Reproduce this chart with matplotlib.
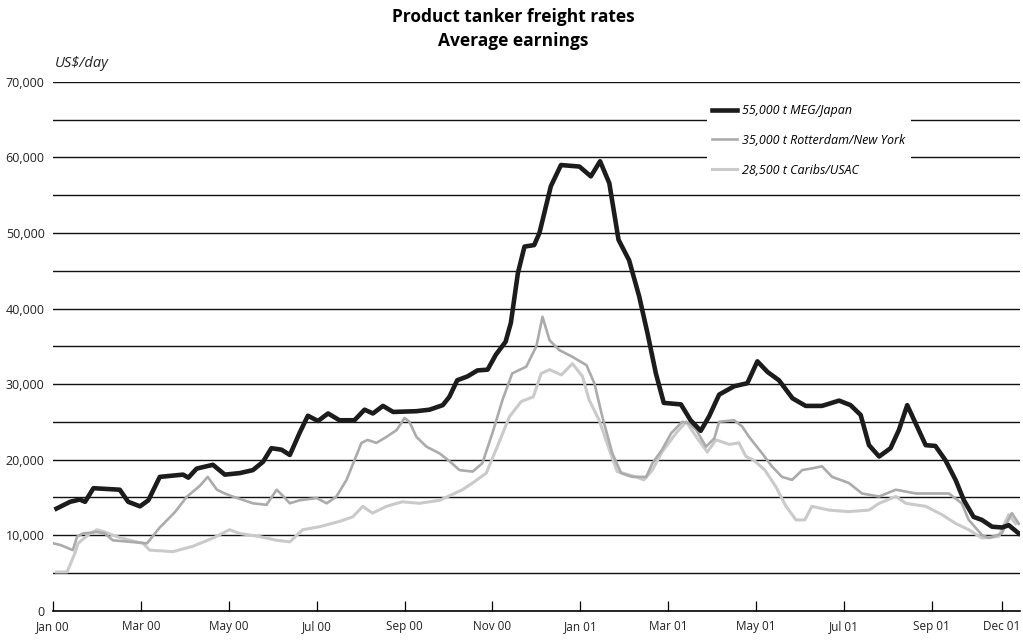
import numpy as np
import matplotlib
matplotlib.use('Agg')
import matplotlib.pyplot as plt

plt.rcParams['font.family'] = ['Open Sans', 'DejaVu Sans']

# Weekly-ish readings, x = months since Jan 2000, y = US$/day
meg_months = [0.08, 0.39, 0.61, 0.73, 0.92, 1.52, 1.71, 1.98, 2.17, 2.43, 2.96, 3.08, 3.27,
              3.64, 3.91, 4.25, 4.55, 4.78, 4.97, 5.2, 5.39, 5.61, 5.8, 6.03, 6.26, 6.52,
              6.86, 7.09, 7.28, 7.51, 7.74, 8.27, 8.57, 8.87, 9.02, 9.2, 9.43, 9.66, 9.89,
              10.08, 10.3, 10.42, 10.58, 10.73, 10.95, 11.07, 11.33, 11.56, 11.98, 12.24,
              12.45, 12.66, 12.87, 13.11, 13.34, 13.53, 13.72, 13.9, 14.29, 14.51, 14.74,
              14.93, 15.16, 15.5, 15.8, 16.03, 16.26, 16.52, 16.83, 17.13, 17.5, 17.89,
              18.15, 18.38, 18.57, 18.8, 19.06, 19.25, 19.44, 19.63, 19.86, 20.08, 20.31,
              20.54, 20.73, 20.95, 21.14, 21.37, 21.6, 21.75, 21.98]
meg_japan = [13500, 14400, 14700, 14400, 16200, 16000, 14400, 13800, 14600, 17700, 18000,
             17600, 18800, 19300, 18000, 18200, 18600, 19700, 21500, 21300, 20600, 23500,
             25800, 25100, 26100, 25200, 25200, 26600, 26100, 27100, 26300, 26400, 26600,
             27200, 28300, 30500, 31000, 31800, 31900, 33900, 35600, 38100, 44700, 48200,
             48400, 50000, 56200, 59000, 58800, 57500, 59500, 56600, 49100, 46400, 41600,
             36700, 31400, 27500, 27300, 25200, 23800, 25700, 28600, 29700, 30100, 33000,
             31600, 30500, 28100, 27100, 27100, 27800, 27200, 25900, 21900, 20400, 21500,
             23900, 27200, 24800, 21900, 21800, 19900, 17300, 14600, 12400, 12000, 11100,
             11000, 11300, 10200]

rot_months = [0.0, 0.16, 0.45, 0.55, 0.68, 1.0, 1.18, 1.36, 1.75, 2.14, 2.43, 2.77, 3.05,
              3.34, 3.52, 3.73, 3.91, 4.09, 4.55, 4.86, 5.09, 5.23, 5.39, 5.61, 6.0, 6.23,
              6.45, 6.68, 6.86, 7.02, 7.16, 7.36, 7.59, 7.82, 8.0, 8.11, 8.27, 8.5, 8.8,
              9.02, 9.25, 9.55, 9.77, 10.0, 10.23, 10.45, 10.77, 11.0, 11.14, 11.3, 11.52,
              11.82, 12.14, 12.32, 12.5, 12.73, 12.93, 13.18, 13.5, 13.64, 13.86, 14.07,
              14.32, 14.48, 14.64, 14.86, 15.05, 15.16, 15.5, 15.68, 15.84, 16.14, 16.36,
              16.59, 16.82, 17.05, 17.25, 17.5, 17.73, 18.11, 18.41, 18.8, 19.18, 19.64,
              20.39, 20.68, 20.84, 21.14, 21.3, 21.59, 21.82, 21.98]
rotterdam_ny = [8900, 8700, 8000, 9800, 10200, 10400, 10200, 9300, 9100, 8900, 11000, 13000,
                15100, 16500, 17700, 16000, 15500, 15100, 14200, 14000, 16000, 15200, 14200,
                14600, 14900, 14200, 15100, 17300, 19900, 22200, 22600, 22200, 23000, 23900,
                25500, 25000, 23000, 21700, 20800, 19800, 18600, 18400, 19500, 23500, 27900,
                31400, 32300, 35000, 38900, 35800, 34500, 33600, 32500, 30100, 25700, 20800,
                18200, 17700, 17700, 19500, 21300, 23500, 25000, 24800, 23900, 21700, 22800,
                25000, 25200, 24400, 23000, 20800, 19100, 17700, 17300, 18600, 18800, 19100,
                17700, 16900, 15500, 15100, 16000, 15500, 15500, 14200, 12000, 10000, 9600,
                10200, 12900, 11500]

car_months = [0.08, 0.32, 0.5, 0.57, 0.84, 1.0, 1.18, 1.45, 1.75, 2.05, 2.2, 2.73, 3.18,
              3.64, 4.02, 4.25, 4.7, 5.09, 5.39, 5.68, 6.07, 6.52, 6.82, 7.05, 7.27, 7.59,
              7.95, 8.34, 8.8, 9.32, 9.55, 9.86, 10.16, 10.39, 10.66, 10.93, 11.11, 11.3,
              11.57, 11.82, 12.05, 12.2, 12.43, 12.66, 12.84, 13.27, 13.45, 13.64, 13.86,
              14.18, 14.41, 14.64, 14.89, 15.09, 15.39, 15.61, 15.77, 15.95, 16.2, 16.45,
              16.68, 16.91, 17.11, 17.27, 17.66, 18.11, 18.57, 18.8, 19.18, 19.41, 19.86,
              20.23, 20.55, 20.84, 21.14, 21.52, 21.75, 21.91]
caribs_usac = [5100, 5100, 7600, 8900, 10200, 10700, 10400, 9800, 9300, 8900, 8000, 7800,
               8500, 9600, 10700, 10200, 9800, 9300, 9100, 10700, 11100, 11800, 12400, 13800,
               12900, 13800, 14400, 14200, 14600, 16000, 16900, 18200, 22400, 25700, 27700,
               28300, 31400, 31900, 31200, 32700, 31000, 27900, 25200, 21300, 18400, 17700,
               17300, 18600, 21000, 23500, 25000, 23000, 21000, 22600, 22000, 22200, 20400,
               19900, 18600, 16400, 13800, 12000, 12000, 13800, 13300, 13100, 13300, 14200,
               15100, 14200, 13800, 12700, 11500, 10700, 9600, 9800, 12700, 11500]

tick_pos = [0, 2, 4, 6, 8, 10, 12, 14, 16, 18, 20, 21.6]
tick_labels = ['Jan 00', 'Mar 00', 'May 00', 'Jul 00', 'Sep 00', 'Nov 00',
               'Jan 01', 'Mar 01', 'May 01', 'Jul 01', 'Sep 01', 'Dec 01']
y_ticks = [0, 10000, 20000, 30000, 40000, 50000, 60000, 70000]

fig = plt.figure(figsize=(10.23, 6.43), dpi=100)
ax = fig.add_axes([0.0518, 0.0505, 0.945, 0.822])

# horizontal rules every 5,000
for v in range(5000, 75000, 5000):
    ax.axhline(v, color='#111111', lw=1.0, zorder=1)

ax.plot(car_months, caribs_usac, color='#cacaca', lw=2.2, zorder=2,
        label='28,500 t Caribs/USAC')
ax.plot(rot_months, rotterdam_ny, color='#ababab', lw=1.9, zorder=3,
        label='35,000 t Rotterdam/New York')
ax.plot(meg_months, meg_japan, color='#1c1c1c', lw=3.3, zorder=4,
        solid_joinstyle='round', label='55,000 t MEG/Japan')

ax.set_xlim(0, 22)
ax.set_ylim(0, 70000)
ax.set_xticks(tick_pos)
ax.set_xticklabels(tick_labels)
ax.set_yticks(y_ticks)
ax.set_yticklabels([f'{v:,}' for v in y_ticks])

for s in ['top', 'right', 'left']:
    ax.spines[s].set_visible(False)
ax.spines['bottom'].set_linewidth(1.2)
ax.tick_params(axis='x', direction='in', length=7, width=0.9, pad=7,
               labelsize=8.5, labelcolor='#222222')
ax.tick_params(axis='y', length=0, pad=6, labelsize=9, labelcolor='#222222')

# legend in reverse plot order, white box hides the rules behind it
handles, labels = ax.get_legend_handles_labels()
leg = ax.legend(handles[::-1], labels[::-1], loc='upper left',
                bbox_to_anchor=(0.677, 0.968), borderaxespad=0,
                frameon=True, fancybox=False, edgecolor='none', facecolor='white',
                framealpha=1, handlelength=2.0, handletextpad=0.4,
                labelspacing=1.35, prop={'style': 'italic', 'size': 9})
leg.set_zorder(6)

fig.text(0.054, 0.902, 'US$/day', fontsize=10.5, style='italic', color='#222222',
         ha='left', va='center')
fig.text(0.502, 0.973, 'Product tanker freight rates', fontsize=12.5, fontweight='bold',
         ha='center', va='center')
fig.text(0.502, 0.937, 'Average earnings', fontsize=12.5, fontweight='bold',
         ha='center', va='center')

plt.savefig('out.png', dpi=100)
